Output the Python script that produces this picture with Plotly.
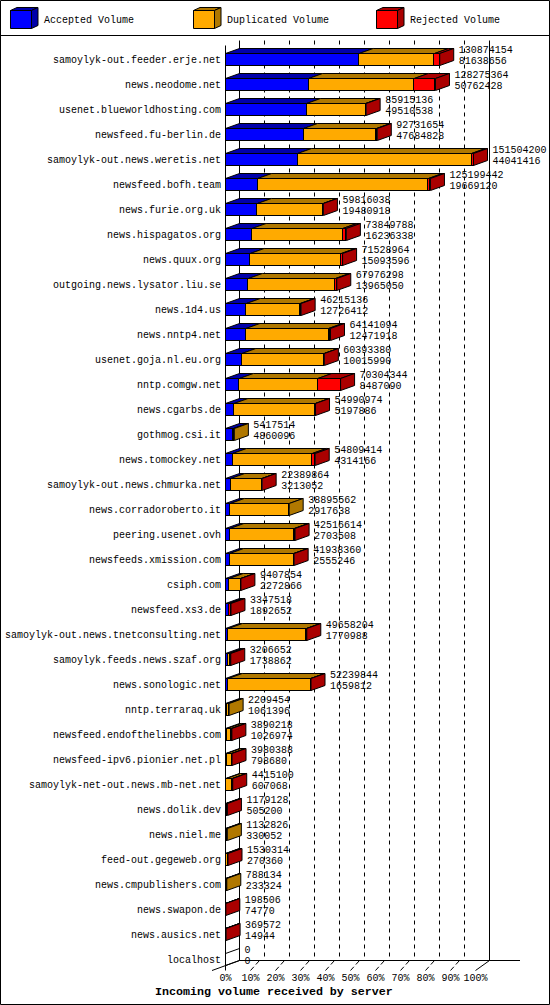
import plotly.graph_objects as go

hosts = ["samoylyk-out.feeder.erje.net", "news.neodome.net", "usenet.blueworldhosting.com",
         "newsfeed.fu-berlin.de", "samoylyk-out.news.weretis.net", "newsfeed.bofh.team",
         "news.furie.org.uk", "news.hispagatos.org", "news.quux.org",
         "outgoing.news.lysator.liu.se", "news.1d4.us", "news.nntp4.net",
         "usenet.goja.nl.eu.org", "nntp.comgw.net", "news.cgarbs.de", "gothmog.csi.it",
         "news.tomockey.net", "samoylyk-out.news.chmurka.net", "news.corradoroberto.it",
         "peering.usenet.ovh", "newsfeeds.xmission.com", "csiph.com", "newsfeed.xs3.de",
         "samoylyk-out.news.tnetconsulting.net", "samoylyk.feeds.news.szaf.org",
         "news.sonologic.net", "nntp.terraraq.uk", "newsfeed.endofthelinebbs.com",
         "newsfeed-ipv6.pionier.net.pl", "samoylyk-net-out.news.mb-net.net", "news.dolik.dev",
         "news.niel.me", "feed-out.gegeweb.org", "news.cmpublishers.com", "news.swapon.de",
         "news.ausics.net", "localhost"]
total_volume = [130874154, 128275364, 85915136, 92731654, 151504200, 125199442, 59816038,
                73849788, 71528964, 67976298, 46215136, 64141094, 60393380, 70304344,
                54990974, 5417514, 54809414, 22389864, 38895562, 42516614, 41938360,
                9407854, 3347518, 49658204, 3206652, 52239844, 2209454, 3890218, 3980388,
                4415100, 1179128, 1132826, 1530314, 788134, 198506, 369572, 0]
accepted_volume = [81638656, 50762428, 49510538, 47684828, 44041416, 19669120, 19480918,
                   16236338, 15093596, 13965050, 12726412, 12471918, 10015990, 8487090,
                   5197886, 4860096, 4314166, 3213052, 2917638, 2703508, 2555246,
                   2272866, 1892652, 1770988, 1738862, 1659812, 1061396, 1026974, 798680,
                   607068, 505200, 330052, 270360, 233324, 74770, 14944, 0]
rejected_volume = [3200000, 12970000, 300000, 500000, 1200000, 1200000, 100000,
                   2200000, 800000, 800000, 600000, 1200000, 100000, 13900000,
                   100000, 0, 1800000, 100000, 0, 500000, 300000,
                   100000, 1000000, 200000, 200000, 200000, 0, 300000, 300000,
                   300000, 500000, 0, 300000, 0, 60000, 100000, 0]
x_ticks = [0, 10, 20, 30, 40, 50, 60, 70, 80, 90, 100]
x_tick_labels = ["0%", "10%", "20%", "30%", "40%", "50%", "60%", "70%", "80%", "90%", "100%"]
series_names = ["Accepted Volume", "Duplicated Volume", "Rejected Volume"]

W, H = 550, 1005
PX_X, PX_Y = 2.5, 25.0          # pixels per percent / per row
X0, Y0 = 225.5, 59.5            # pixel of 0% / row 0
DX, DY = 14 / PX_X, 5 / PX_Y    # depth of a bar, data units
BAR_W = 12 / PX_Y
TOP_PCT = 99.2                  # the largest server reaches just short of the 100% tick
FONT = "Liberation Mono"
BLACK = "#000000"
FRONT = ["#0000ff", "#ffaa00", "#ff0000"]
SHADE = ["#0000aa", "#b07800", "#aa0000"]

max_v = max(total_volume)
pct = lambda v: v / max_v * TOP_PCT
rows = list(range(len(hosts)))
dup = [t - a - r for t, a, r in zip(total_volume, accepted_volume, rejected_volume)]
a_pct = [pct(v) for v in accepted_volume]
d_pct = [pct(v) for v in dup]
r_pct = [pct(v) for v in rejected_volume]
t_pct = [pct(v) for v in total_volume]

fig = go.Figure()
for name, vals, col in zip(series_names, [a_pct, d_pct, r_pct], FRONT):
    fig.add_bar(y=rows, x=vals, orientation="h", width=BAR_W, name=name,
                marker=dict(color=col, line=dict(color=BLACK, width=1)),
                showlegend=False, hoverinfo="skip")


def poly_trace(xs, ys, color):
    fig.add_scatter(x=xs, y=ys, mode="lines", line=dict(color=BLACK, width=1),
                    fill="toself" if color else "none", fillcolor=color,
                    showlegend=False, hoverinfo="skip", cliponaxis=False)


# top faces, one trace per series
for k, col in enumerate(SHADE):
    xs, ys = [], []
    for i in rows:
        a = [0, a_pct[i], a_pct[i] + d_pct[i]][k]
        b = a + [a_pct[i], d_pct[i], r_pct[i]][k]
        if b <= a:
            continue
        yt = i - BAR_W / 2
        xs += [a, b, b + DX, a + DX, a, None]
        ys += [yt, yt, yt - DY, yt - DY, yt, None]
    poly_trace(xs, ys, col)

# end faces: coloured by the last non-empty segment
for key, col in [(2, SHADE[2]), (1, SHADE[1]), (None, None)]:
    xs, ys = [], []
    for i in rows:
        k = None if t_pct[i] == 0 else (2 if r_pct[i] > 0 else 1)
        if k != key:
            continue
        b = t_pct[i]
        yt, yb = i - BAR_W / 2, i + BAR_W / 2
        xs += [b, b + DX, b + DX, b, b, None]
        ys += [yt, yt - DY, yb - DY, yb, yt, None]
    poly_trace(xs, ys, col)

# two-line value labels
lab_x = [t + 19 / PX_X for t in t_pct]
for vals, off in [(total_volume, -9.3), (accepted_volume, 1.7)]:
    fig.add_scatter(x=lab_x, y=[i + off / PX_Y for i in rows], mode="text",
                    text=[str(v) for v in vals], textposition="middle right",
                    textfont=dict(family=FONT, size=10, color=BLACK),
                    showlegend=False, hoverinfo="skip", cliponaxis=False)

# helpers for decoration in page pixels
fx = lambda px: px / W
fy = lambda py: 1 - py / H
dy_px = lambda py: (py - Y0) / PX_Y
dx_px = lambda px: (px - X0) / PX_X

shapes = []


def seg(x0, y0, x1, y1, dash="solid"):
    shapes.append(dict(type="line", xref="x", yref="y", x0=x0, y0=y0, x1=x1, y1=y1,
                       layer="below", line=dict(color=BLACK, width=1, dash=dash)))


wall_top, floor = dy_px(40.5), dy_px(960.5)
front_top, front_floor = dy_px(45.5), dy_px(970.5)
for t in x_ticks:
    solid = t in (0, 100)
    seg(t + DX, wall_top, t + DX, floor, "solid" if solid else "4px,4px")
    if 0 < t < 100:
        seg(t, front_floor, t + 9 / PX_X, floor, "5px,3px")
seg(0, front_top, 0, front_floor)                          # front axis
seg(dx_px(212), front_floor, DX, floor)                    # left floor edge
seg(100, front_floor, 100 + DX, floor)                     # right floor edge
seg(DX, floor, dx_px(520), floor)                          # back floor edge

# frame
page = [dict(type="rect", xref="paper", yref="paper", x0=fx(0.5), x1=fx(549.5),
             y0=fy(1004.5), y1=fy(0.5), line=dict(color=BLACK, width=1)),
        dict(type="line", xref="paper", yref="paper", x0=0, x1=1, y0=fy(35.5), y1=fy(35.5),
             line=dict(color=BLACK, width=1))]

# legend keys and texts
annos = []
for left, name, c, s in zip([10.5, 193.5, 376.5], series_names, FRONT, SHADE):
    r, t, b, d, e = left + 21, 10.5, 28.5, 6.5, 3
    P = lambda pts: "M" + "L".join(f"{fx(x):.5f},{fy(y):.5f}" for x, y in pts) + "Z"
    page.append(dict(type="path", xref="paper", yref="paper", fillcolor=c,
                     path=P([(left, t), (r, t), (r, b), (left, b)]), line=dict(color=BLACK, width=1)))
    page.append(dict(type="path", xref="paper", yref="paper", fillcolor=s,
                     path=P([(left, t), (left + d, t - e), (r + d, t - e), (r, t)]), line=dict(color=BLACK, width=1)))
    page.append(dict(type="path", xref="paper", yref="paper", fillcolor=s,
                     path=P([(r, t), (r + d, t - e), (r + d, b - e), (r, b)]), line=dict(color=BLACK, width=1)))
    annos.append(dict(xref="paper", yref="paper", x=fx(left + 32), y=fy(20), text=name,
                      showarrow=False, xanchor="left", yanchor="middle", borderpad=0,
                      font=dict(family=FONT, size=10, color=BLACK)))
annos.append(dict(xref="paper", yref="paper", x=fx(274), y=fy(992),
                  text="<b>Incoming volume received by server</b>", showarrow=False,
                  xanchor="center", yanchor="middle", borderpad=0,
                  font=dict(family=FONT, size=11.67, color=BLACK)))

fig.update_layout(
    width=W, height=H, margin=dict(l=0, r=0, t=0, b=0),
    paper_bgcolor="white", plot_bgcolor="white", barmode="stack", bargap=0,
    showlegend=False, shapes=shapes + page, annotations=annos,
    font=dict(family=FONT, size=10, color=BLACK),
    xaxis=dict(domain=[0, 1], range=[dx_px(0), dx_px(W)], tickvals=x_ticks,
               ticktext=x_tick_labels, showgrid=False, zeroline=False, showline=False,
               anchor="free", position=fy(967), ticks="outside", ticklen=1,
               tickcolor="rgba(0,0,0,0)", tickfont=dict(family=FONT, size=10),
               fixedrange=True),
    yaxis=dict(domain=[0, 1], range=[dy_px(H), dy_px(0)], tickvals=rows, ticktext=hosts,
               showgrid=False, zeroline=False, showline=False, anchor="free",
               position=fx(225), ticks="outside", ticklen=2,
               tickcolor="rgba(0,0,0,0)", tickfont=dict(family=FONT, size=10),
               fixedrange=True),
)
fig.write_html("out.html", config=dict(displayModeBar=False),
               post_script="document.body.style.margin='0';document.documentElement.style.overflow='hidden';document.body.style.overflow='hidden';")
